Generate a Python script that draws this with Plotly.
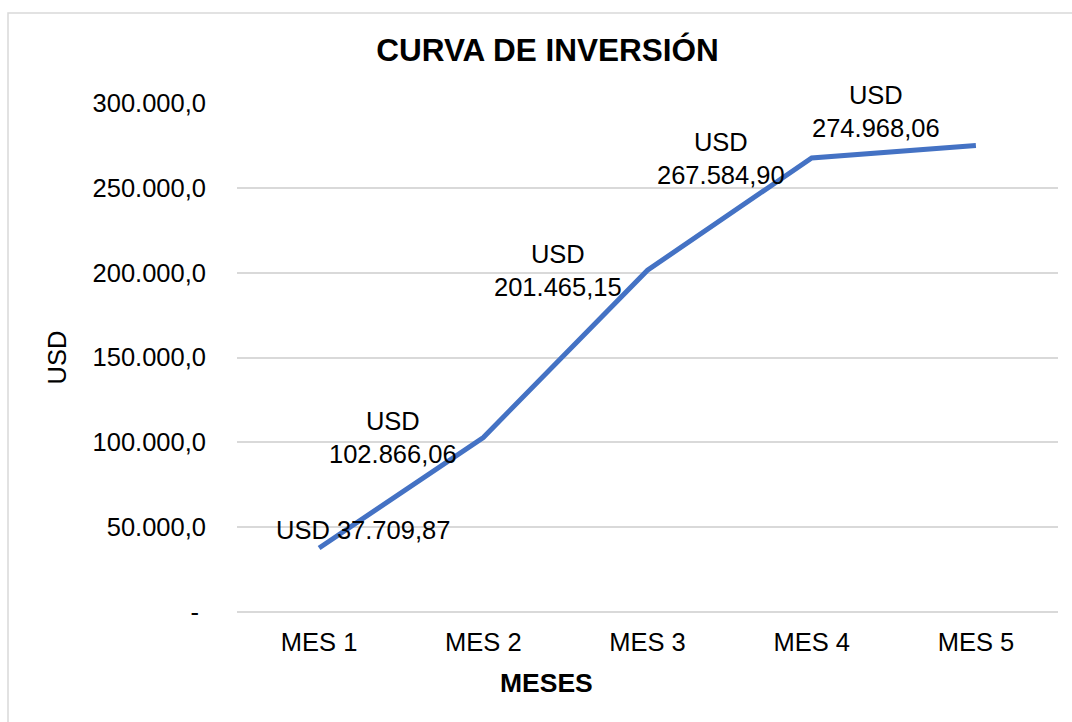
import plotly.graph_objects as go

# Monthly cumulative investment (USD)
meses = ["MES 1", "MES 2", "MES 3", "MES 4", "MES 5"]
inversion = [37709.87, 102866.06, 201465.15, 267584.90, 274968.06]

y_tick_vals = [0, 50000, 100000, 150000, 200000, 250000, 300000]
y_tick_text = ["-\u00a0", "50.000,0", "100.000,0", "150.000,0", "200.000,0", "250.000,0", "300.000,0"]

# figure geometry (pixels)
W, H = 1072, 722
L, R, T, B = 237, 14, 103, 110
PW, PH = W - L - R, H - T - B

FONT = "Liberation Sans, Arial, sans-serif"
BLUE = "#4472C4"
GRID = "#D9D9D9"


def fmt_usd(v):
    s = f"{v:,.2f}"
    return s.replace(",", "X").replace(".", ",").replace("X", ".")


fig = go.Figure()
fig.add_trace(go.Scatter(
    x=meses, y=inversion, mode="lines",
    line=dict(color=BLUE, width=5),
    hoverinfo="skip", showlegend=False,
))

# data labels placed around each point
label_offsets = [
    dict(xanchor="center", xshift=44, yshift=18, one_line=True),
    dict(xanchor="right", xshift=-24, yshift=0, one_line=False),
    dict(xanchor="right", xshift=-24, yshift=0, one_line=False),
    dict(xanchor="right", xshift=-25, yshift=0, one_line=False),
    dict(xanchor="right", xshift=-34, yshift=34, one_line=False),
]
annotations = []
for m, v, o in zip(meses, inversion, label_offsets):
    sep = " " if o["one_line"] else "<br>"
    annotations.append(dict(
        x=m, y=v, xref="x", yref="y", text="USD" + sep + fmt_usd(v),
        showarrow=False, xanchor=o["xanchor"], yanchor="middle",
        xshift=o["xshift"], yshift=o["yshift"], align="center",
        font=dict(family=FONT, size=25.5, color="#000000"),
    ))

# axis titles
annotations.append(dict(
    text="USD", xref="paper", yref="paper", x=0, y=0.5,
    xanchor="center", yanchor="middle", xshift=56 - L, textangle=-90,
    showarrow=False, font=dict(family=FONT, size=25.5, color="#000000"),
))
annotations.append(dict(
    text="<b>MESES</b>", xref="paper", yref="paper", x=0.5, y=0,
    xanchor="center", yanchor="middle", xshift=546.5 - (L + PW / 2), yshift=-(683 - (T + PH)),
    showarrow=False, font=dict(family=FONT, size=26.5, color="#000000"),
))

# chart border
shapes = [dict(
    type="rect", xref="paper", yref="paper",
    x0=(8 - L) / PW, x1=(W + 10 - L) / PW,
    y0=-(H + 10 - (T + PH)) / PH, y1=((T + PH) - 13) / PH,
    line=dict(color=GRID, width=1.5), fillcolor="rgba(0,0,0,0)", layer="below",
)]

fig.update_layout(
    width=W, height=H,
    margin=dict(l=L, r=R, t=T, b=B, pad=0),
    paper_bgcolor="white", plot_bgcolor="white",
    title=dict(text="<b>CURVA DE INVERSIÓN</b>", x=547.5 / W, xanchor="center",
               y=1 - 50 / H, yanchor="middle",
               font=dict(family=FONT, size=31.5, color="#000000")),
    annotations=annotations,
    shapes=shapes,
    xaxis=dict(
        type="category", range=[-0.5, 4.5], showgrid=False, zeroline=False,
        showline=False, ticks="", tickfont=dict(family=FONT, size=25.5, color="#000000"),
        ticklabelstandoff=12,
    ),
    yaxis=dict(
        range=[0, 300000], tickvals=y_tick_vals, ticktext=y_tick_text,
        showgrid=True, gridcolor=GRID, gridwidth=1.5,
        zeroline=True, zerolinecolor=GRID, zerolinewidth=1.5,
        showline=False, ticks="", ticklabelstandoff=30,
        tickfont=dict(family=FONT, size=25.5, color="#000000"),
    ),
)

fig.write_html("out.html")
